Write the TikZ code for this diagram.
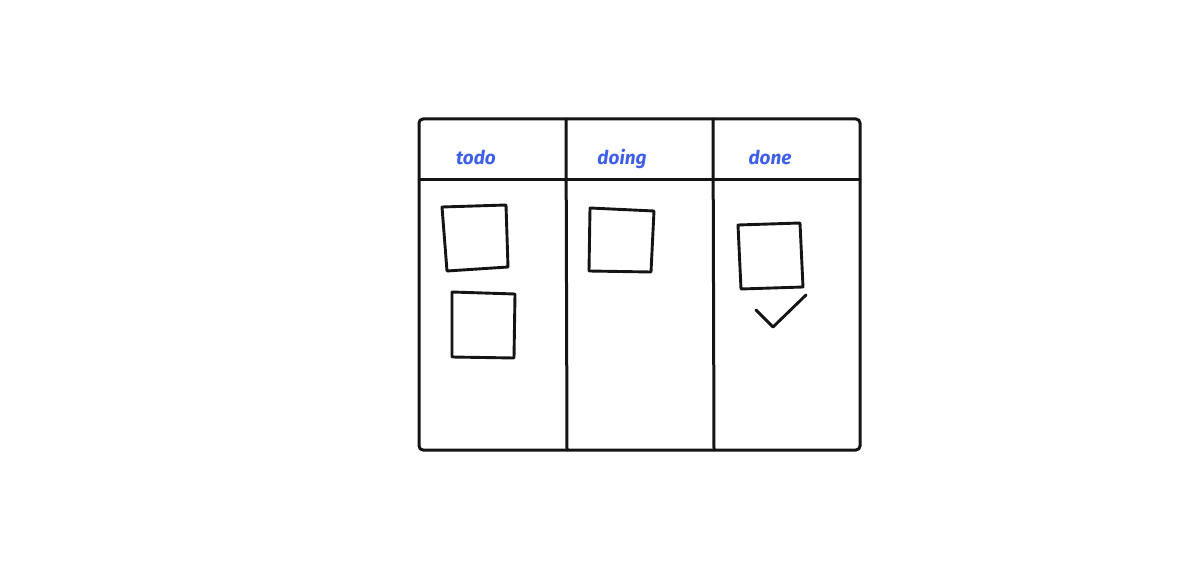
\documentclass[tikz,border=0pt]{standalone}
\usepackage{fontspec}
\setsansfont{Fira Sans}
\usetikzlibrary{positioning}
\definecolor{ink}{HTML}{141414}
\definecolor{pen}{HTML}{3F5FE8}
\tikzstyle{frame} = [draw=ink, line width=3pt, line join=round, line cap=round]
\tikzstyle{note} = [draw=ink, line width=2.9pt, line join=round, line cap=round]
\tikzstyle{title} = [text=pen, font=\sffamily\bfseries\itshape\fontsize{19}{19}\selectfont, inner sep=0pt, anchor=base]
\begin{document}
\begin{tikzpicture}[x=1pt, y=-1pt]
    \useasboundingbox (0,0) rectangle (1200,564);

    % Board.
    \coordinate (tl) at (419,119);
    \coordinate (br) at (860,450);
    \draw [frame, rounded corners=4pt] (tl) rectangle (br);
    \coordinate (head l) at (419,180);
    \coordinate (head r) at (860,180);
    \draw [frame] (head l) -- (head r);
    \coordinate (col a top) at (566,119);
    \coordinate (col a bot) at (567,450);
    \coordinate (col b top) at (713,119);
    \coordinate (col b bot) at (714,450);
    \draw [frame] (col a top) -- (col a bot);
    \draw [frame] (col b top) -- (col b bot);

    % Titles.
    \node (todo) [title] at (476,165) {todo};
    \node (doing) [title] at (622,165) {doing};
    \node (done) [title] at (770,165) {done};

    % Notes.
    \draw [note] (442,207) -- (506,205) -- (508,267) -- (447,271) -- cycle;
    \draw [note] (452,292) -- (515,294) -- (514,358) -- (452,357) -- cycle;
    \draw [note] (590,208) -- (654,211) -- (651,272) -- (589,271) -- cycle;
    \draw [note] (738,225) -- (800,223) -- (803,287) -- (741,289) -- cycle;

    % Tick.
    \coordinate (tick a) at (756,310);
    \coordinate (tick b) at (773,327);
    \coordinate (tick c) at (806,295);
    \draw [note] (tick a) -- (tick b) -- (tick c);
\end{tikzpicture}
\end{document}
